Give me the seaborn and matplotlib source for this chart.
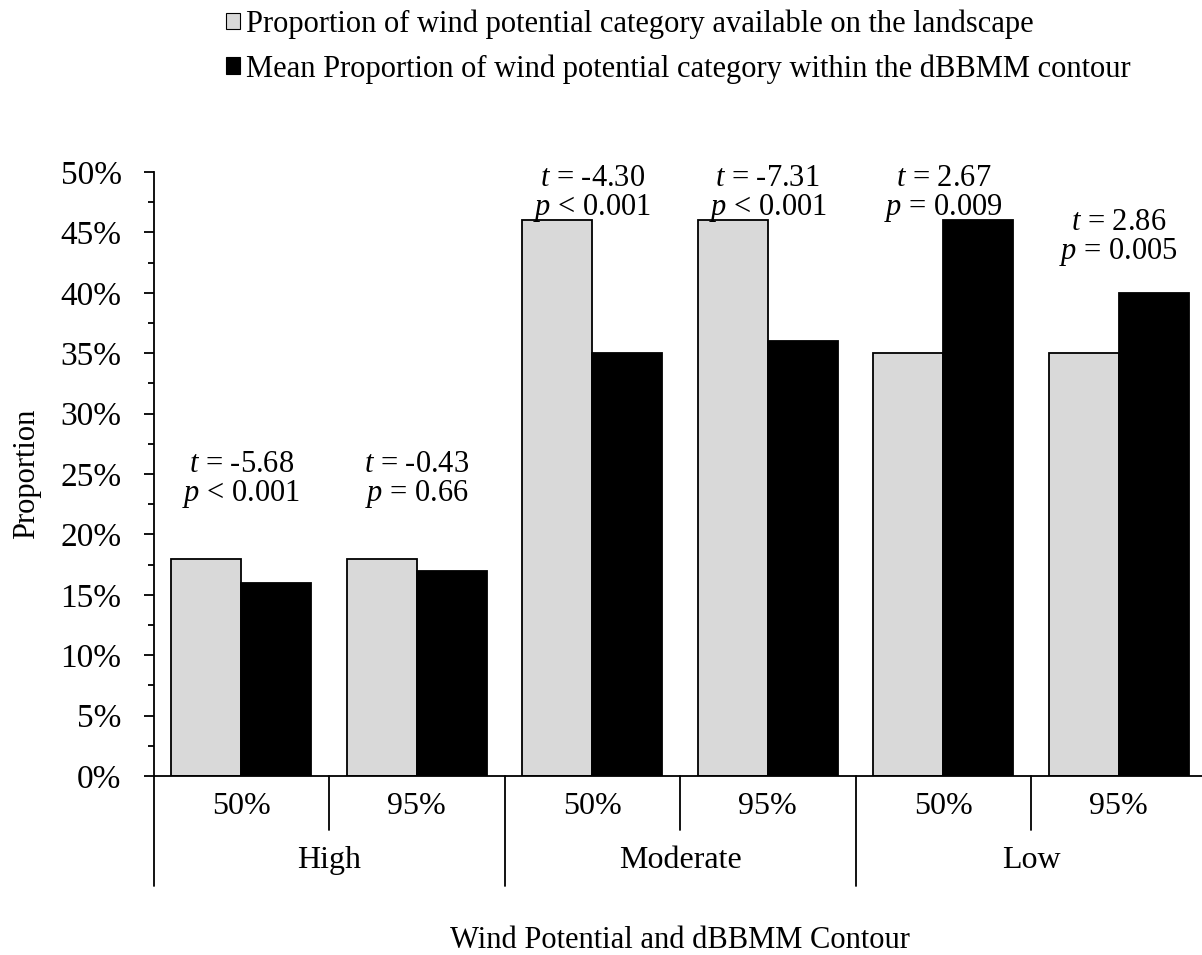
import matplotlib
matplotlib.use("Agg")
import matplotlib.pyplot as plt
import matplotlib.transforms as mtransforms
import seaborn as sns
import pandas as pd

# Wind potential category / dBBMM contour combinations
wind_potential = ["High", "High", "Moderate", "Moderate", "Low", "Low"]
contours = ["50%", "95%", "50%", "95%", "50%", "95%"]

# Proportions (percent)
landscape = [18, 18, 46, 46, 35, 35]
within_contour = [16, 17, 35, 36, 46, 40]

series_names = [
    "Proportion of wind potential category available on the landscape",
    "Mean Proportion of wind potential category within the dBBMM contour",
]

# t-test results for each combination
t_values = ["-5.68", "-0.43", "-4.30", "-7.31", "2.67", "2.86"]
p_texts = ["< 0.001", "= 0.66", "< 0.001", "< 0.001", "= 0.009", "= 0.005"]
label_heights = [25.8, 25.8, 49.45, 49.45, 49.45, 45.8]

y_ticks = [0, 5, 10, 15, 20, 25, 30, 35, 40, 45, 50]

slots = [f"{w} {c}" for w, c in zip(wind_potential, contours)]
df = pd.DataFrame({
    "slot": slots * 2,
    "value": landscape + within_contour,
    "series": [series_names[0]] * 6 + [series_names[1]] * 6,
})

sns.set_theme(style="white")
plt.rcParams.update({
    "font.family": ["Liberation Serif", "DejaVu Serif"],
    "font.size": 22,
    "text.color": "black",
    "axes.labelcolor": "black",
    "xtick.color": "black",
    "ytick.color": "black",
    "mathtext.fontset": "custom",
    "mathtext.rm": "Liberation Serif",
    "mathtext.it": "Liberation Serif:italic",
})
FS = 22
CAT_FS = 23
TICK_FS = 24

fig = plt.figure(figsize=(12.02, 9.55), dpi=100)
W, H = 1202, 955
ax = fig.add_axes([153.5 / W, (H - 776) / H, 1053 / W, (776 - 172) / H])

sns.barplot(data=df, x="slot", y="value", hue="series", order=slots,
            hue_order=series_names, palette=["#d9d9d9", "#000000"],
            edgecolor="black", linewidth=1.3, width=0.8, saturation=1,
            ax=ax)

ax.set_xlim(-0.5, 5.5)
ax.set_ylim(0, 50)
ax.set_yticks(y_ticks)
ax.set_yticklabels([f"{v}%" for v in y_ticks], fontsize=TICK_FS)
ax.set_yticks([v + 2.5 for v in y_ticks[:-1]], minor=True)
ax.tick_params(axis="y", which="major", direction="out", length=7, width=1.3,
               left=True, pad=16)
ax.tick_params(axis="y", which="minor", direction="out", length=4.3,
               width=1.3, left=True)
ax.set_xticks([])
ax.set_xlabel("")
ax.set_ylabel("Proportion", fontsize=FS, labelpad=14)

for side in ["top", "right"]:
    ax.spines[side].set_visible(False)
for side in ["left", "bottom"]:
    ax.spines[side].set_color("black")
    ax.spines[side].set_linewidth(1.3)

# Two-level category axis drawn below the bars
trans = mtransforms.blended_transform_factory(ax.transData, fig.transFigure)
for i in range(7):
    x = i - 0.5
    y_end = (H - 886) / H if i % 2 == 0 else (H - 830) / H
    ax.plot([x, x], [(H - 776) / H, y_end], color="black", lw=1.3,
            transform=trans, clip_on=False)
for i, c in enumerate(contours):
    ax.text(i, (H - 806) / H, c, transform=trans, ha="center", va="center",
            fontsize=CAT_FS)
for g in range(3):
    ax.text(2 * g + 0.5, (H - 860) / H, wind_potential[2 * g],
            transform=trans, ha="center", va="center", fontsize=CAT_FS)

fig.text((153.5 + 1053 / 2) / W, (H - 940) / H,
         "Wind Potential and dBBMM Contour", ha="center", va="center",
         fontsize=FS)

# t-test annotations
for i in range(6):
    y = label_heights[i]
    ax.text(i, y, f"$\\it{{t}}$ = {t_values[i]}", ha="center", va="center",
            fontsize=FS, zorder=5)
    ax.text(i, y - 2.45, f"$\\it{{p}}$ {p_texts[i]}", ha="center",
            va="center", fontsize=FS, zorder=5)

handles, labels = ax.get_legend_handles_labels()
ax.legend(handles, labels, loc="upper left",
          bbox_to_anchor=(214 / W, 1 + 3 / H), bbox_transform=fig.transFigure,
          frameon=False, fontsize=FS, handlelength=0.45, handleheight=0.45,
          handletextpad=0.2, labelspacing=0.5, borderaxespad=0)
for h in ax.get_legend().legend_handles:
    h.set_linewidth(0.8)

fig.savefig("out.png", dpi=100)
